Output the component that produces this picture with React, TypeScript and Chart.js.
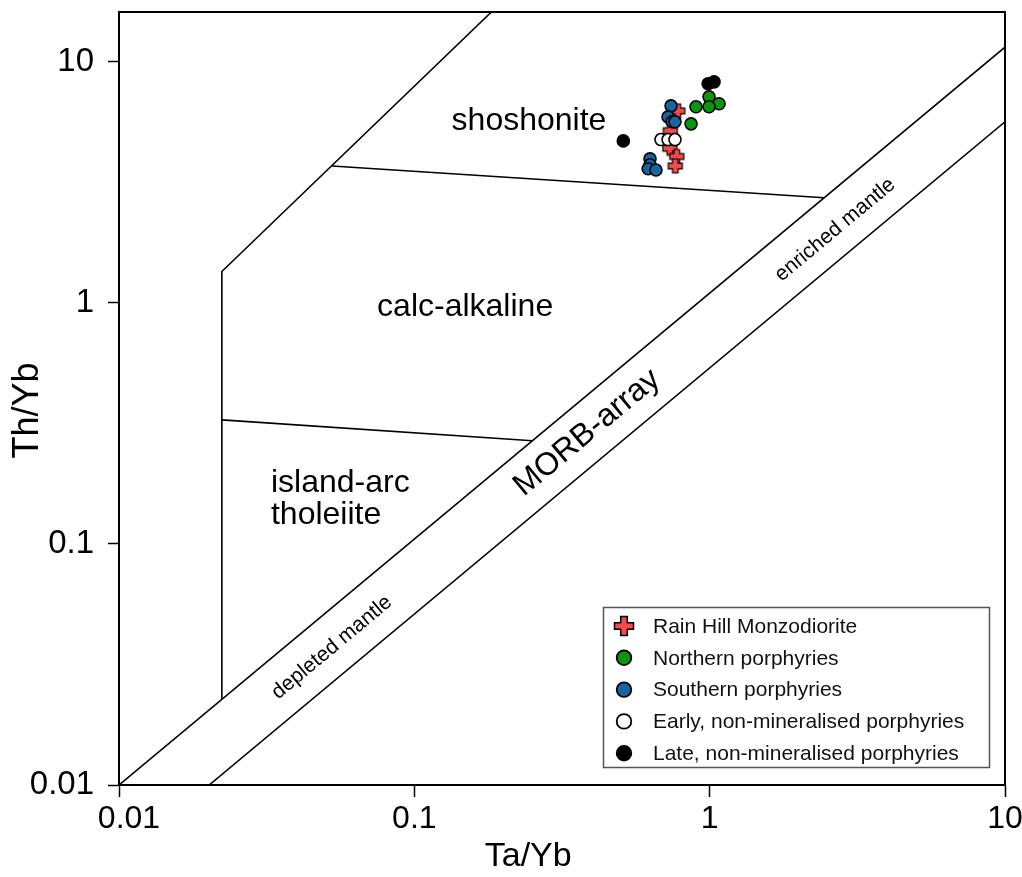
import React, { useEffect, useRef } from 'react';
import { Chart, registerables } from 'chart.js';

Chart.register(...registerables);

// ---------- axis ticks ----------
const tickValues = [0.01, 0.1, 1, 10];
const tickLabels = ['0.01', '0.1', '1', '10'];
const xTickNudge = [10, 0, 0, 0];
const xTitle = 'Ta/Yb';
const yTitle = 'Th/Yb';

// ---------- sample series ----------
const rainHillX = [0.78, 0.736, 0.733, 0.774, 0.765];
const rainHillY = [6.26, 5.18, 4.38, 4.05, 3.7];

const northernX = [0.995, 1.076, 0.995, 0.899, 0.865];
const northernY = [7.16, 6.7, 6.51, 6.51, 5.53];

const southernX = [0.74, 0.723, 0.746, 0.763, 0.628, 0.628, 0.619, 0.658];
const southernY = [6.57, 5.91, 5.64, 5.64, 3.96, 3.74, 3.6, 3.56];

const earlyX = [0.684, 0.723, 0.763];
const earlyY = [4.76, 4.76, 4.76];

const lateX = [0.51, 0.988, 1.035];
const lateY = [4.7, 8.11, 8.26];

const seriesNames = [
  'Rain Hill Monzodiorite',
  'Northern porphyries',
  'Southern porphyries',
  'Early, non-mineralised porphyries',
  'Late, non-mineralised porphyries',
];
const seriesColors = ['#f24a4a', '#0c960c', '#15659f', '#ffffff', '#000000'];

// ---------- field boundaries ----------
const morbUpperX = [0.01, 10];
const morbUpperY = [0.01, 11.5];
const morbLowerX = [0.0202, 10];
const morbLowerY = [0.01, 5.64];
const arcOutlineX = [0.0223, 0.0223, 0.1824];
const arcOutlineY = [0.02266, 1.35, 16.1];
const shoshBoundaryX = [0.0526, 2.44];
const shoshBoundaryY = [3.7, 2.73];
const tholBoundaryX = [0.0223, 0.251];
const tholBoundaryY = [0.327, 0.268];

// ---------- field labels ----------
const fieldLabels = ['shoshonite', 'calc-alkaline', 'island-arc', 'tholeiite'];
const fieldLabelX = [0.2445, 0.1486, 0.0327, 0.0327];
const fieldLabelY = [5.69, 0.962, 0.179, 0.132];
const fieldLabelAlign = ['center', 'center', 'left', 'left'];

const arrayLabels = ['MORB-array', 'enriched mantle', 'depleted mantle'];
const arrayLabelX = [0.3845, 2.66, 0.0526];
const arrayLabelY = [0.289, 2.01, 0.0372];
const arrayLabelSize = [32, 21, 21];

const xTitleAt = 0.243;

const FONT = "'Liberation Sans', Arial, Helvetica, sans-serif";

function pts(xs: number[], ys: number[]) {
  return xs.map((x, i) => ({ x, y: ys[i] }));
}

function drawCrossPath(g: CanvasRenderingContext2D, cx: number, cy: number, L: number, w: number) {
  const p = [
    [-w, -L], [w, -L], [w, -w], [L, -w], [L, w], [w, w],
    [w, L], [-w, L], [-w, w], [-L, w], [-L, -w], [-w, -w],
  ];
  g.beginPath();
  p.forEach(([dx, dy], i) => {
    if (i === 0) g.moveTo(cx + dx, cy + dy);
    else g.lineTo(cx + dx, cy + dy);
  });
  g.closePath();
}

function makeCross(L: number, w: number, lw: number) {
  const size = Math.ceil(2 * L + lw + 2);
  const c = size / 2;
  const cv = document.createElement('canvas');
  cv.width = size;
  cv.height = size;
  const g = cv.getContext('2d')!;
  drawCrossPath(g, c, c, L, w);
  g.fillStyle = seriesColors[0];
  g.fill();
  g.lineWidth = lw;
  g.strokeStyle = '#000';
  g.stroke();
  return cv;
}

const annotate = {
  id: 'annotate',
  afterDatasetsDraw(chart: any) {
    const { ctx, chartArea, scales } = chart;
    const xs = scales.x;
    const ys = scales.y;
    ctx.save();
    // frame
    ctx.strokeStyle = '#000';
    ctx.lineWidth = 2;
    ctx.strokeRect(chartArea.left, chartArea.top, chartArea.right - chartArea.left, chartArea.bottom - chartArea.top);

    // field labels
    ctx.fillStyle = '#000';
    ctx.textBaseline = 'middle';
    ctx.font = `32px ${FONT}`;
    fieldLabels.forEach((t, i) => {
      ctx.textAlign = fieldLabelAlign[i] as CanvasTextAlign;
      ctx.fillText(t, xs.getPixelForValue(fieldLabelX[i]), ys.getPixelForValue(fieldLabelY[i]));
    });

    // rotated labels along MORB array
    const x1 = xs.getPixelForValue(morbUpperX[0]);
    const y1 = ys.getPixelForValue(morbUpperY[0]);
    const x2 = xs.getPixelForValue(morbUpperX[1]);
    const y2 = ys.getPixelForValue(morbUpperY[1]);
    const ang = Math.atan2(y2 - y1, x2 - x1);
    arrayLabels.forEach((t, i) => {
      ctx.save();
      ctx.translate(xs.getPixelForValue(arrayLabelX[i]), ys.getPixelForValue(arrayLabelY[i]));
      ctx.rotate(ang);
      ctx.textAlign = 'center';
      ctx.textBaseline = 'middle';
      ctx.font = `${arrayLabelSize[i]}px ${FONT}`;
      ctx.fillText(t, 0, 0);
      ctx.restore();
    });
    ctx.restore();
  },
  afterDraw(chart: any) {
    const { ctx, chartArea, scales } = chart;
    const xs = scales.x;
    ctx.save();
    // x tick labels
    ctx.fillStyle = '#000';
    ctx.font = `32px ${FONT}`;
    ctx.textAlign = 'center';
    ctx.textBaseline = 'middle';
    tickValues.forEach((v, i) => {
      ctx.fillText(tickLabels[i], xs.getPixelForValue(v) + xTickNudge[i], chartArea.bottom + 34);
    });
    // axis titles
    ctx.font = `34px ${FONT}`;
    ctx.fillText(xTitle, xs.getPixelForValue(xTitleAt), chartArea.bottom + 72);
    ctx.save();
    ctx.translate(28, (chartArea.top + chartArea.bottom) / 2 + 12);
    ctx.rotate(-Math.PI / 2);
    ctx.font = `36px ${FONT}`;
    ctx.fillText(yTitle, 0, 0);
    ctx.restore();

    // legend box
    const bx = 603.5, by = 607.5, bw = 386, bh = 160;
    ctx.fillStyle = '#fff';
    ctx.fillRect(bx, by, bw, bh);
    ctx.strokeStyle = '#555';
    ctx.lineWidth = 1.5;
    ctx.strokeRect(bx, by, bw, bh);
    const mx = 624;
    const tx = 653;
    const rowY0 = 626;
    const rowH = 31.8;
    ctx.font = `21px ${FONT}`;
    ctx.textAlign = 'left';
    ctx.textBaseline = 'middle';
    seriesNames.forEach((name, i) => {
      const cy = rowY0 + i * rowH;
      if (i === 0) {
        drawCrossPath(ctx, mx, cy, 9.5, 3.3);
        ctx.fillStyle = seriesColors[0];
        ctx.fill();
        ctx.lineWidth = 1.5;
        ctx.strokeStyle = '#000';
        ctx.stroke();
      } else {
        ctx.beginPath();
        ctx.arc(mx, cy, 7.3, 0, Math.PI * 2);
        ctx.fillStyle = seriesColors[i];
        ctx.fill();
        ctx.lineWidth = 1.8;
        ctx.strokeStyle = '#000';
        ctx.stroke();
      }
      ctx.fillStyle = '#111';
      ctx.fillText(name, tx, cy + 1);
    });
    ctx.restore();
  },
};

export default function App() {
  const ref = useRef<HTMLCanvasElement>(null);
  useEffect(() => {
    const canvas = ref.current!;
    const crossImg = makeCross(7, 2.8, 1.2);
    const lineDs = (xs: number[], ys: number[]) => ({
      data: pts(xs, ys),
      showLine: true,
      borderColor: '#000',
      borderWidth: 1.6,
      pointRadius: 0,
      fill: false,
      order: 10,
    });
    const pointDs = (xs: number[], ys: number[], i: number, order: number) => ({
      label: seriesNames[i],
      data: pts(xs, ys),
      showLine: false,
      pointRadius: 6,
      pointBackgroundColor: seriesColors[i],
      pointBorderColor: '#000',
      pointBorderWidth: 1.6,
      order,
    });
    const chart = new Chart(canvas, {
      type: 'scatter',
      data: {
        datasets: [
          lineDs(morbUpperX, morbUpperY),
          lineDs(morbLowerX, morbLowerY),
          lineDs(arcOutlineX, arcOutlineY),
          lineDs(shoshBoundaryX, shoshBoundaryY),
          lineDs(tholBoundaryX, tholBoundaryY),
          { ...pointDs(rainHillX, rainHillY, 0, 6), pointStyle: crossImg },
          pointDs(northernX, northernY, 1, 5),
          pointDs(southernX, southernY, 2, 4),
          pointDs(earlyX, earlyY, 3, 3),
          pointDs(lateX, lateY, 4, 2),
        ] as any,
      },
      options: {
        animation: false,
        responsive: false,
        devicePixelRatio: 1,
        layout: { padding: { top: 12, right: 17, bottom: 0, left: 0 } },
        plugins: { legend: { display: false }, tooltip: { enabled: false } },
        scales: {
          x: {
            type: 'logarithmic',
            min: 0.01,
            max: 10,
            afterBuildTicks: (s: any) => {
              s.ticks = tickValues.map((v) => ({ value: v }));
            },
            afterFit: (s: any) => {
              s.height = 92;
              s.paddingLeft = 0;
              s.paddingRight = 0;
            },
            ticks: { display: false, autoSkip: false },
            grid: { drawOnChartArea: false, drawTicks: true, tickLength: 12, tickWidth: 1.5, tickColor: '#000' },
            border: { display: true, color: '#000', width: 2 },
            title: { display: false },
          },
          y: {
            type: 'logarithmic',
            min: 0.01,
            max: 16.1,
            afterBuildTicks: (s: any) => {
              s.ticks = tickValues.map((v) => ({ value: v }));
            },
            afterFit: (s: any) => {
              s.width = 119;
              s.paddingTop = 0;
              s.paddingBottom = 0;
            },
            ticks: {
              autoSkip: false,
              padding: 14,
              color: '#000',
              font: { family: FONT, size: 33 },
              callback: (v: any) => {
                const i = tickValues.findIndex((t) => Math.abs(t - Number(v)) < 1e-9);
                return i >= 0 ? tickLabels[i] : '';
              },
            },
            grid: { drawOnChartArea: false, drawTicks: true, tickLength: 11, tickWidth: 1.5, tickColor: '#000' },
            border: { display: true, color: '#000', width: 2 },
            title: { display: false },
          },
        },
      },
      plugins: [annotate],
    });
    return () => chart.destroy();
  }, []);
  return (
    <div style={{ position: 'absolute', left: 0, top: 0, width: 1022, height: 877, background: '#fff' }}>
      <canvas ref={ref} width={1022} height={877} style={{ display: 'block' }} />
    </div>
  );
}
